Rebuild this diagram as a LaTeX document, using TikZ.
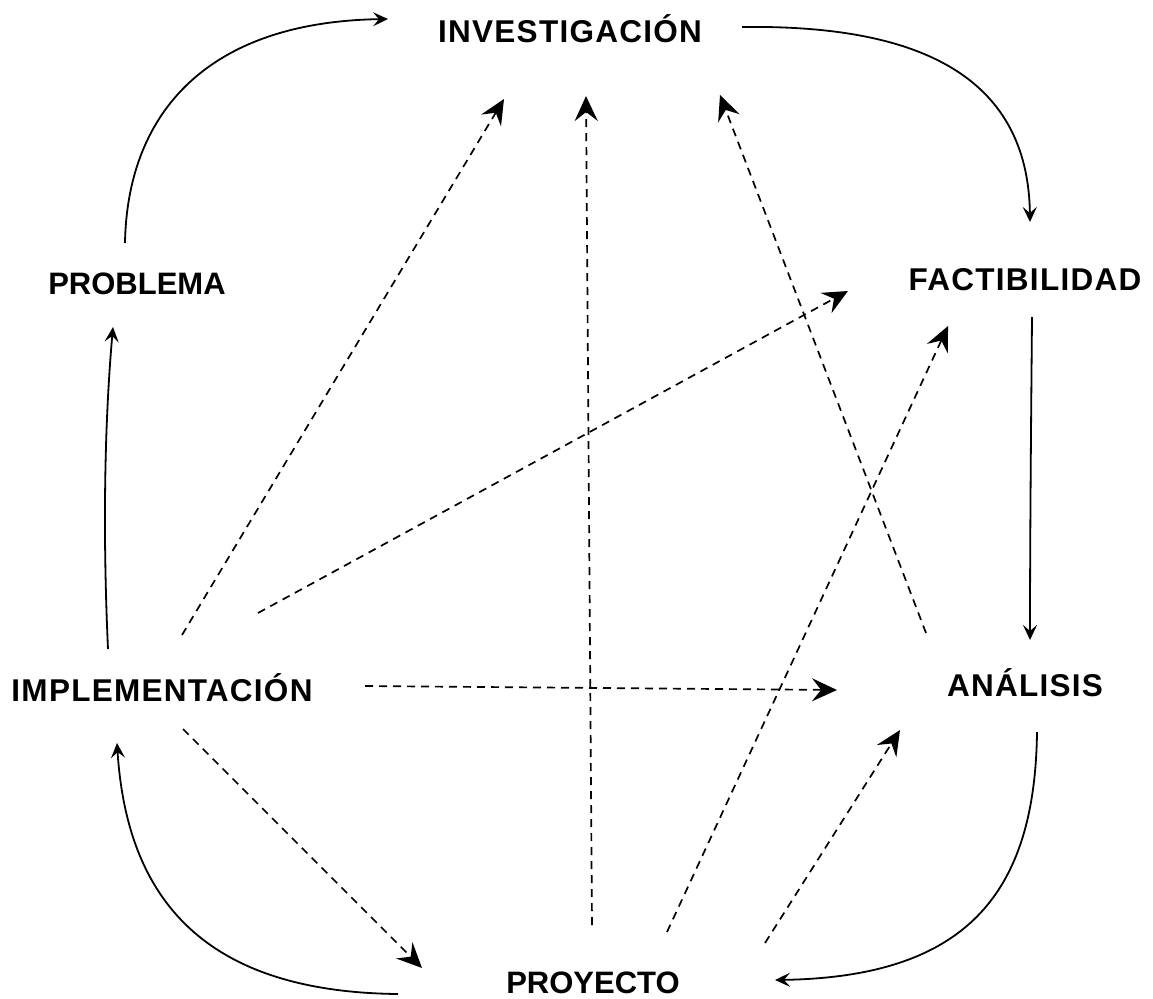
\documentclass[tikz,border=0pt]{standalone}
\usepackage{fontspec}
\setmainfont{Liberation Sans}
\newfontfamily\stagefont[LetterSpace=4]{Liberation Sans}
\newfontfamily\stagefonttight{Liberation Sans}
\usetikzlibrary{arrows.meta}
\tikzset{
  stage/.style={inner sep=0pt, anchor=base, font=\stagefont\bfseries\fontsize{31.5}{37}\selectfont},
  tightstage/.style={stage, font=\stagefonttight\bfseries\fontsize{31}{37}\selectfont},
  flow/.style={line width=1.8pt, -{Stealth[length=15pt, width=14pt, inset=6pt]}},
  link/.style={line width=1.7pt, dash pattern=on 8pt off 6pt,
    -{Stealth[length=25pt, width=23pt, inset=9pt]}}
}
\begin{document}
\begin{tikzpicture}[x=1pt, y=-1pt]
  \useasboundingbox (0,0) rectangle (1153,998);
  % stages of the cycle
  \node[stage] (inv)  at (570,43)  {INVESTIGACIÓN};
  \node[stage] (fact) at (1025,290) {FACTIBILIDAD};
  \node[tightstage] (prob) at (137,294) {PROBLEMA};
  \node[stage] (impl) at (162,701) {IMPLEMENTACIÓN};
  \node[stage] (ana)  at (1025,696) {ANÁLISIS};
  \node[tightstage] (proy) at (593,993) {PROYECTO};

  % main cycle (solid)
  \draw[flow] ([shift={(-12,-51)}]prob.base)
    .. controls (127,120) and (200,22) .. ([shift={(-182,-24)}]inv.base);
  \draw[flow] ([shift={(172,-16)}]inv.base)
    .. controls (895,25) and (1028,62) .. ([shift={(5,-68)}]fact.base);
  \draw[flow] ([shift={(7,27)}]fact.base)
    .. controls (1031,430) and (1030,540) .. ([shift={(5,-56)}]ana.base);
  \draw[flow] ([shift={(12,36)}]ana.base)
    .. controls (1035,895) and (965,977) .. ([shift={(182,-13)}]proy.base);
  \draw[flow] ([shift={(-195,1)}]proy.base)
    .. controls (205,992) and (127,900) .. ([shift={(-45,42)}]impl.base);
  \draw[flow] ([shift={(-54,-52)}]impl.base)
    .. controls (103,540) and (104,430) .. ([shift={(-24,33)}]prob.base);

  % feedback links (dashed)
  \draw[link] ([shift={(20,-66)}]impl.base) -- ([shift={(-66,56)}]inv.base);
  \draw[link] ([shift={(96,-88)}]impl.base) -- ([shift={(-177,1)}]fact.base);
  \draw[link] ([shift={(203,-15)}]impl.base) -- ([shift={(-188,-6)}]ana.base);
  \draw[link] ([shift={(21,28)}]impl.base) -- ([shift={(-171,-25)}]proy.base);
  \draw[link] ([shift={(-1,-68)}]proy.base) -- ([shift={(16,53)}]inv.base);
  \draw[link] ([shift={(74,-61)}]proy.base) -- ([shift={(-77,36)}]fact.base);
  \draw[link] ([shift={(172,-50)}]proy.base) -- ([shift={(-125,34)}]ana.base);
  \draw[link] ([shift={(-99,-63)}]ana.base) -- ([shift={(150,52)}]inv.base);
\end{tikzpicture}
\end{document}
